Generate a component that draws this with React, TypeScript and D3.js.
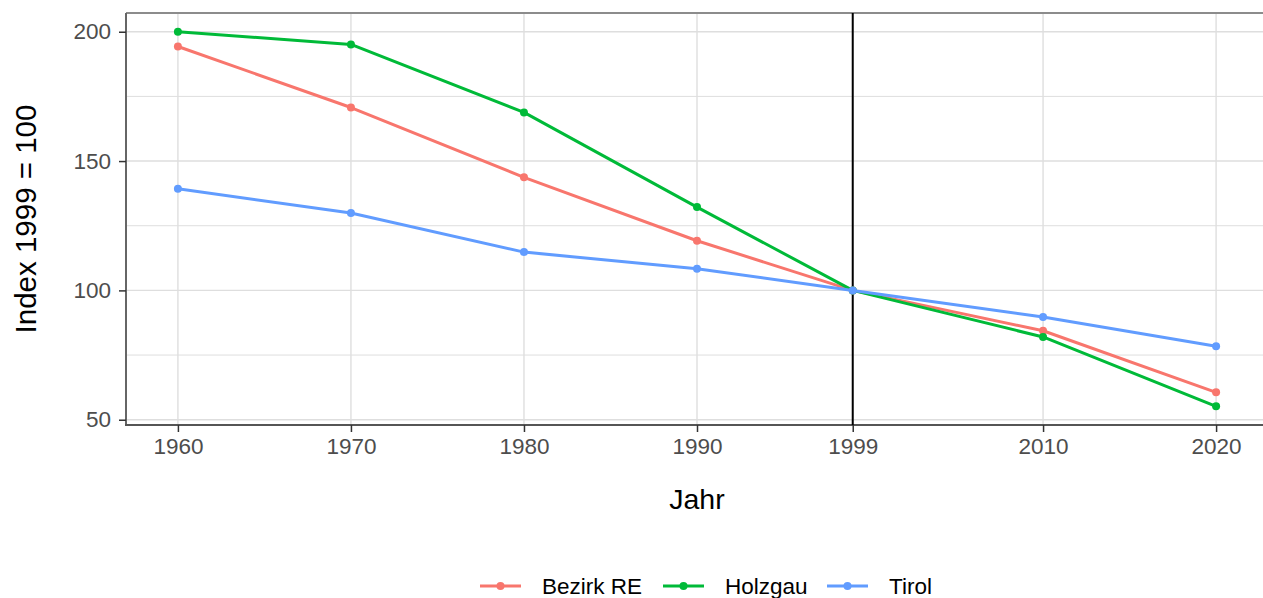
import { useRef, useEffect } from "react";
import * as d3 from "d3";

// values (index 1999 = 100)
const years = [1960, 1970, 1980, 1990, 1999, 2010, 2020];
const bezirkRE = [194.3, 170.7, 143.7, 119.2, 100, 84.4, 60.6];
const holzgau = [200, 195.1, 168.8, 132.2, 100, 82, 55.2];
const tirol = [139.3, 129.9, 114.8, 108.4, 100, 89.7, 78.4];
const xTicks = [1960, 1970, 1980, 1990, 1999, 2010, 2020];
const yTicks = [50, 100, 150, 200];
const yMinor = [75, 125, 175];
const refYear = 1999;

const seriesNames = ["Bezirk RE", "Holzgau", "Tirol"];
const seriesColors = ["#F8766D", "#00BA38", "#619CFF"];

const width = 1263,
  height = 598,
  panelLeft = 126,
  panelRight = 1268,
  panelTop = 13,
  panelBottom = 425;

const font = "'Liberation Sans', Arial, sans-serif";

export default function App() {
  const gx = useRef<SVGGElement>(null),
    gy = useRef<SVGGElement>(null);

  const allSeries = [bezirkRE, holzgau, tirol];
  const all = allSeries.flat();
  const yMin = d3.min(all)!,
    yMax = d3.max(all)!;
  const yPad = (yMax - yMin) * 0.05;
  const xMin = d3.min(years)!,
    xMax = d3.max(years)!;
  const xPad = (xMax - xMin) * 0.05;

  const x = d3
    .scaleLinear()
    .domain([xMin - xPad, xMax + xPad])
    .range([panelLeft, panelRight]);

  const y = d3
    .scaleLinear()
    .domain([yMin - yPad, yMax + yPad])
    .range([panelBottom, panelTop]);

  const line = d3
    .line<number>()
    .x((_, i) => x(years[i]))
    .y((d) => y(d));

  useEffect(() => {
    d3.select(gx.current)
      .call(d3.axisBottom(x).tickValues(xTicks).tickFormat(d3.format("d")).tickSize(7).tickPadding(6))
      .call((g) => g.select(".domain").remove())
      .call((g) => g.selectAll(".tick line").attr("stroke", "#333333").attr("stroke-width", 1.5))
      .call((g) =>
        g
          .selectAll(".tick text")
          .attr("fill", "#4D4D4D")
          .attr("font-size", 22.5)
          .attr("font-family", font)
      );
    d3.select(gy.current)
      .call(d3.axisLeft(y).tickValues(yTicks).tickSize(7).tickPadding(8))
      .call((g) => g.select(".domain").remove())
      .call((g) => g.selectAll(".tick line").attr("stroke", "#333333").attr("stroke-width", 1.5))
      .call((g) =>
        g
          .selectAll(".tick text")
          .attr("fill", "#4D4D4D")
          .attr("font-size", 22.5)
          .attr("font-family", font)
      );
  });

  const legendX = [480, 663, 827];

  return (
    <svg
      width={width}
      height={height}
      style={{ position: "absolute", left: 0, top: 0, background: "#fff" }}
      fontFamily={font}
    >
      {/* grid */}
      <g stroke="#DEDEDE">
        {yMinor.map((t) => (
          <line key={"m" + t} x1={panelLeft} x2={panelRight} y1={y(t)} y2={y(t)} strokeWidth={1} />
        ))}
        {yTicks.map((t) => (
          <line key={"y" + t} x1={panelLeft} x2={panelRight} y1={y(t)} y2={y(t)} strokeWidth={1.4} />
        ))}
        {xTicks.map((t) => (
          <line key={"x" + t} x1={x(t)} x2={x(t)} y1={panelTop} y2={panelBottom} strokeWidth={1.4} />
        ))}
      </g>
      {/* panel frame */}
      <line x1={panelLeft} x2={panelRight} y1={panelTop} y2={panelTop} stroke="#8C8C8C" strokeWidth={2} />
      <line x1={panelLeft} x2={panelLeft} y1={panelTop} y2={panelBottom} stroke="#666666" strokeWidth={2} />
      <line x1={panelLeft - 1} x2={panelRight} y1={panelBottom} y2={panelBottom} stroke="#555555" strokeWidth={2} />

      {/* reference year */}
      <line x1={x(refYear)} x2={x(refYear)} y1={panelTop} y2={panelBottom} stroke="#000" strokeWidth={2} />

      {/* series */}
      {allSeries.map((s, i) => (
        <g key={seriesNames[i]}>
          <path d={line(s) ?? ""} fill="none" stroke={seriesColors[i]} strokeWidth={3} strokeLinejoin="round" />
          {s.map((v, j) => (
            <circle key={j} cx={x(years[j])} cy={y(v)} r={4} fill={seriesColors[i]} />
          ))}
        </g>
      ))}

      <g ref={gx} transform={`translate(0,${panelBottom})`} />
      <g ref={gy} transform={`translate(${panelLeft},0)`} />

      {/* axis titles */}
      <text x={(panelLeft + panelRight) / 2} y={509} textAnchor="middle" fontSize={28.5} fill="#000">
        Jahr
      </text>
      <text
        transform={`translate(36,${(panelTop + panelBottom) / 2}) rotate(-90)`}
        textAnchor="middle"
        fontSize={29.5}
        fill="#000"
      >
        Index 1999 = 100
      </text>

      {/* legend */}
      {seriesNames.map((n, i) => (
        <g key={n} transform={`translate(${legendX[i]},586)`}>
          <line x1={0} x2={41} y1={0} y2={0} stroke={seriesColors[i]} strokeWidth={3} />
          <circle cx={20.5} cy={0} r={4} fill={seriesColors[i]} />
          <text x={62} y={8} fontSize={22.5} fill="#000">
            {n}
          </text>
        </g>
      ))}
    </svg>
  );
}
